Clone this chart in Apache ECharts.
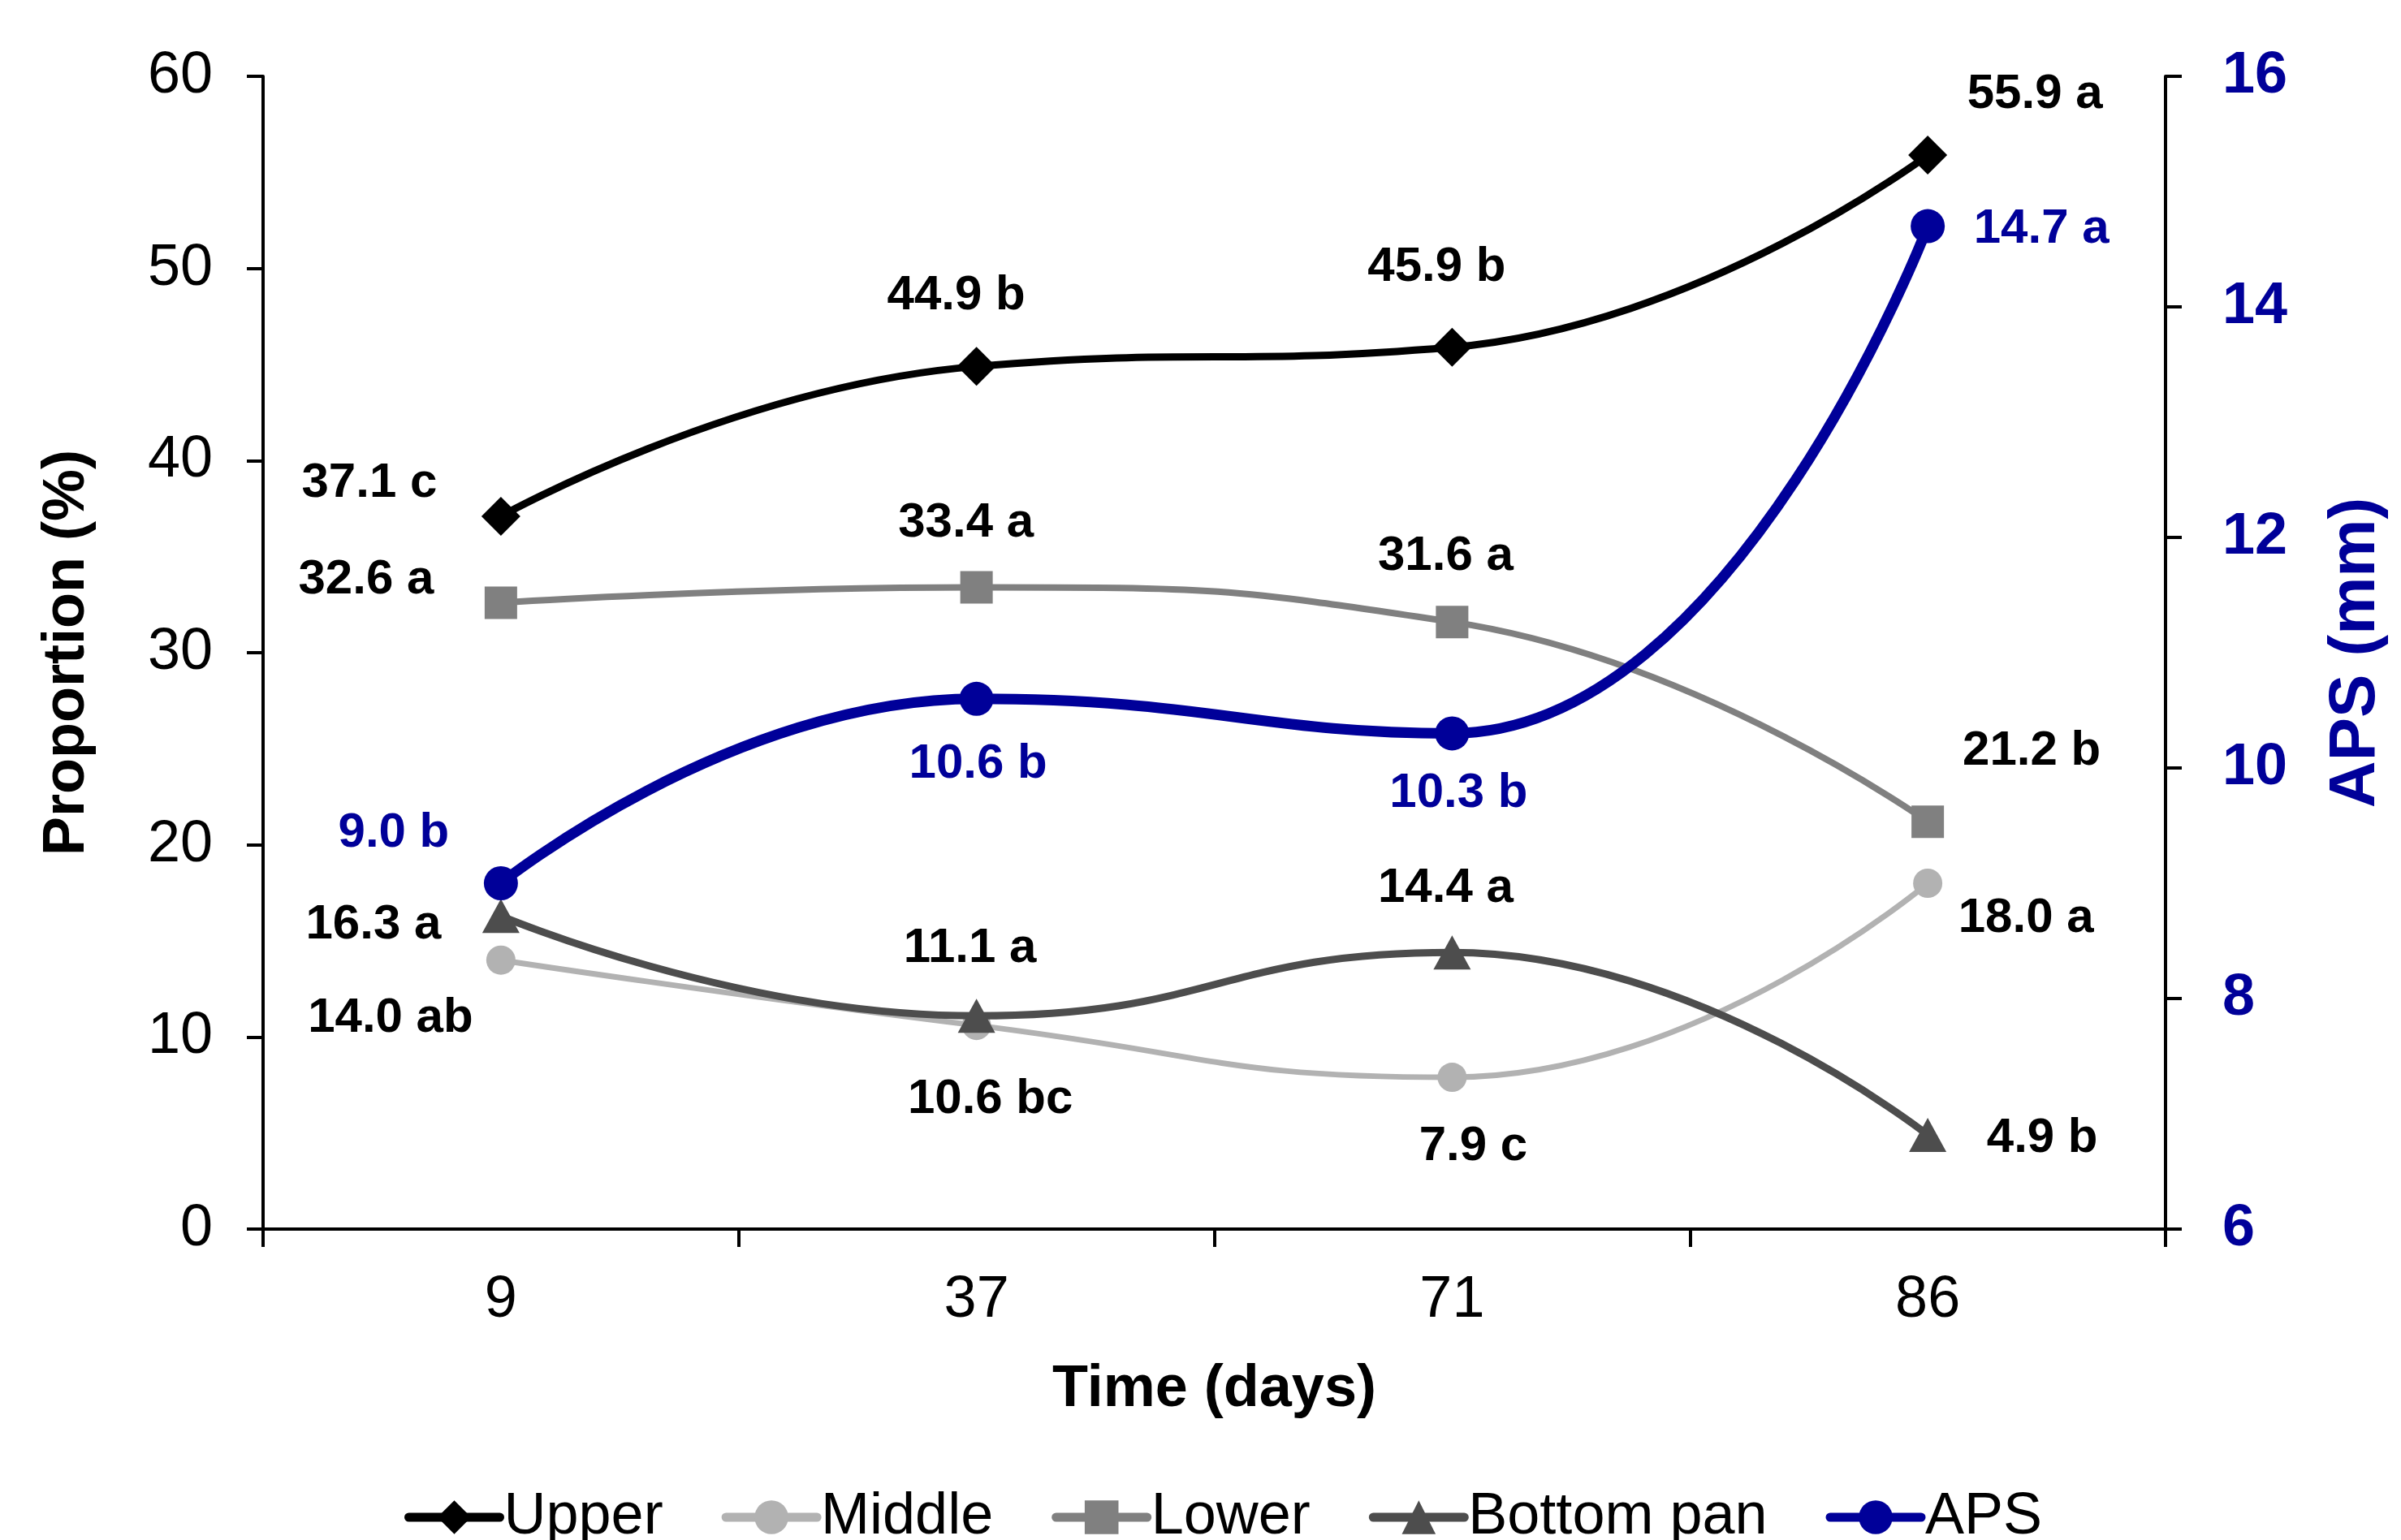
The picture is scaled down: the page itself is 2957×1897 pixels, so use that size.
<!DOCTYPE html>
<html>
<head>
<meta charset="utf-8">
<script src="https://cdn.jsdelivr.net/npm/echarts@6/dist/echarts.min.js"></script>
<style>
  html, body { margin: 0; padding: 0; background: #fff; }
  #chart { width: 2957px; height: 1897px; }
</style>
</head>
<body>
<div id="chart"></div>
<script>
// data
const days = ['9', '37', '71', '86']

const upper = [37.1, 44.9, 45.9, 55.9]
const upperSig = ['c', 'b', 'b', 'a']
const middle = [14.0, 10.6, 7.9, 18.0]
const middleSig = ['ab', 'bc', 'c', 'a']
const lower = [32.6, 33.4, 31.6, 21.2]
const lowerSig = ['a', 'a', 'a', 'b']
const bottomPan = [16.3, 11.1, 14.4, 4.9]
const bottomPanSig = ['a', 'a', 'a', 'b']
const aps = [9.0, 10.6, 10.3, 14.7]
const apsSig = ['b', 'b', 'b', 'a']

// label placement (px from the point), layout only
const labelOffsets = {
  upper: [[-162, -41], [-25, -87], [-19, -98], [132, -75]],
  middle: [[-136, 72], [17, 91], [26, 85], [121, 43]],
  lower: [[-166, -28], [-13, -79], [-8, -81], [128, -87]],
  bottomPan: [[-157, 11], [-8, -83], [-8, -79], [141, 4]],
  aps: [[-132, -62], [2, 81], [8, 74], [140, 4]]
}

const font = 'Liberation Sans'
const navy = '#000099'

function points(values, sig, offsets, color) {
  return values.map(function(v, i) {
    return {
      value: v,
      label: {
        show: true,
        position: 'inside',
        offset: offsets[i],
        formatter: v.toFixed(1) + ' ' + sig[i],
        color: color,
        fontFamily: font,
        fontWeight: 'bold',
        fontSize: 60
      }
    }
  })
}

function lineSeries(name, values, sig, offsets, color, symbol, size, width, axis, labelColor, z) {
  return {
    name: name,
    type: 'line',
    yAxisIndex: axis,
    smooth: 0.5,
    symbol: symbol,
    symbolSize: size,
    z: z,
    lineStyle: { color: color, width: width },
    itemStyle: { color: color },
    data: points(values, sig, offsets, labelColor)
  }
}

const chart = echarts.init(document.getElementById('chart'))
chart.setOption({
  animation: false,
  backgroundColor: '#fff',
  grid: { left: 324, right: 290, top: 94, bottom: 383, containLabel: false },
  legend: {
    top: 1828,
    left: 493,
    itemWidth: 112,
    itemHeight: 52,
    itemGap: 72,
    lineStyle: { width: 11, cap: 'round' },
    textStyle: { fontFamily: font, fontSize: 72, color: '#000' },
    data: ['Upper', 'Middle', 'Lower', 'Bottom pan', 'APS']
  },
  xAxis: {
    type: 'category',
    data: days,
    boundaryGap: true,
    name: 'Time (days)',
    nameLocation: 'middle',
    nameGap: 162,
    nameTextStyle: { fontFamily: font, fontWeight: 'bold', fontSize: 72, color: '#000' },
    axisLine: { lineStyle: { color: '#000', width: 4 } },
    axisTick: { show: true, length: 22, lineStyle: { color: '#000', width: 4 } },
    axisLabel: { margin: 52, fontFamily: font, fontSize: 72, color: '#000' },
    splitLine: { show: false }
  },
  yAxis: [{
    type: 'value',
    min: 0,
    max: 60,
    interval: 10,
    name: 'Proportion (%)',
    nameLocation: 'middle',
    nameGap: 205,
    nameTextStyle: { fontFamily: font, fontWeight: 'bold', fontSize: 72, color: '#000' },
    axisLine: { show: true, lineStyle: { color: '#000', width: 4 } },
    axisTick: { show: true, length: 20, lineStyle: { color: '#000', width: 4 } },
    axisLabel: { margin: 62, fontFamily: font, fontSize: 72, color: '#000' },
    splitLine: { show: false }
  }, {
    type: 'value',
    position: 'right',
    min: 6,
    max: 16,
    interval: 2,
    name: 'APS (mm)',
    nameLocation: 'middle',
    nameGap: 195,
    nameTextStyle: { fontFamily: font, fontWeight: 'bold', fontSize: 80, color: navy },
    axisLine: { show: true, lineStyle: { color: '#000', width: 4 } },
    axisTick: { show: true, length: 20, lineStyle: { color: '#000', width: 4 } },
    axisLabel: { margin: 70, fontFamily: font, fontWeight: 'bold', fontSize: 72, color: navy },
    splitLine: { show: false }
  }],
  series: [
    lineSeries('Upper', upper, upperSig, labelOffsets.upper, '#000000', 'diamond', [48, 48], 9, 0, '#000', 5),
    lineSeries('Middle', middle, middleSig, labelOffsets.middle, '#b2b2b2', 'circle', 36, 7, 0, '#000', 2),
    lineSeries('Lower', lower, lowerSig, labelOffsets.lower, '#808080', 'rect', 40, 8, 0, '#000', 3),
    lineSeries('Bottom pan', bottomPan, bottomPanSig, labelOffsets.bottomPan, '#4d4d4d', 'triangle', [46, 42], 9, 0, '#000', 4),
    lineSeries('APS', aps, apsSig, labelOffsets.aps, navy, 'circle', 42, 13, 1, navy, 6)
  ]
})
</script>
</body>
</html>
